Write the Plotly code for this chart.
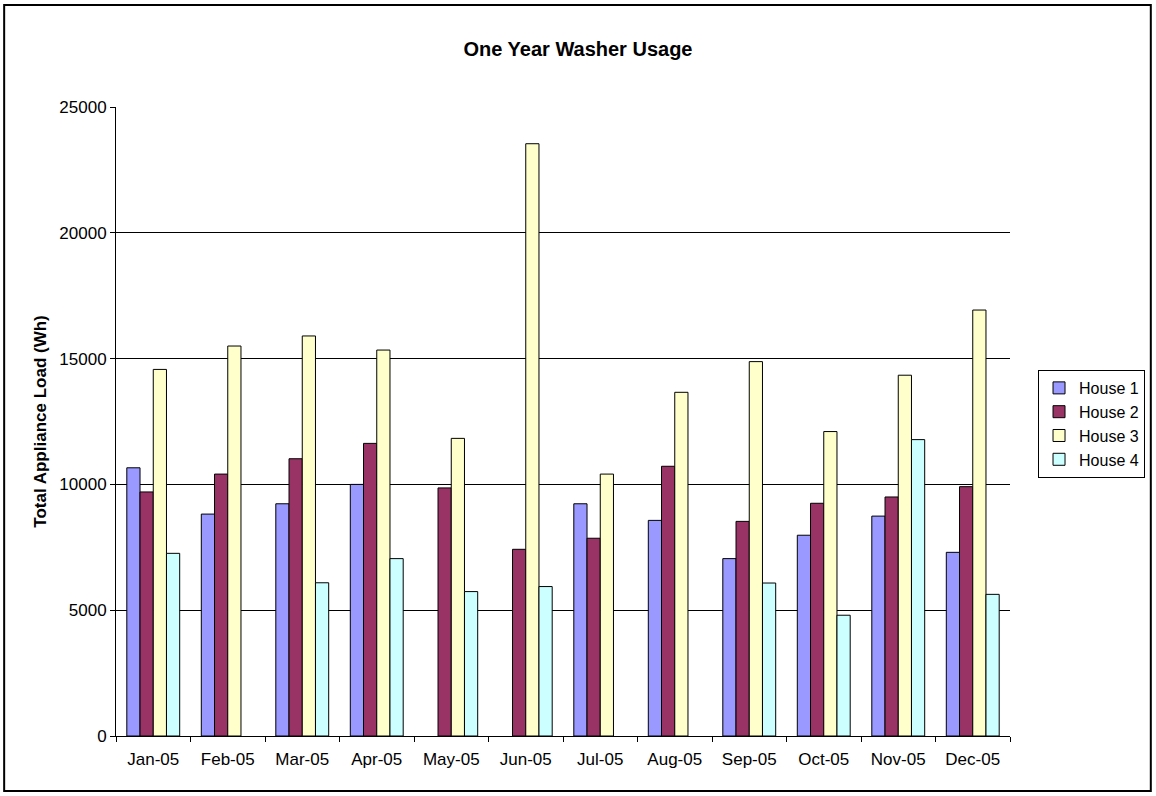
import plotly.graph_objects as go

# Data
months = ['Jan-05', 'Feb-05', 'Mar-05', 'Apr-05', 'May-05', 'Jun-05',
          'Jul-05', 'Aug-05', 'Sep-05', 'Oct-05', 'Nov-05', 'Dec-05']
house1 = [10660, 8820, 9230, 10000, None, None, 9230, 8570, 7050, 7980, 8740, 7300]
house2 = [9700, 10410, 11020, 11630, 9860, 7420, 7860, 10720, 8530, 9250, 9500, 9910]
house3 = [14570, 15500, 15900, 15340, 11830, 23540, 10410, 13660, 14880, 12100, 14340, 16930]
house4 = [7260, None, 6090, 7050, 5740, 5940, None, None, 6080, 4800, 11780, 5630]
y_ticks = [0, 5000, 10000, 15000, 20000, 25000]

series = [('House 1', house1, '#9999FF'),
          ('House 2', house2, '#993366'),
          ('House 3', house3, '#FFFFCC'),
          ('House 4', house4, '#CCFFFF')]

fig = go.Figure()
for name, vals, col in series:
    fig.add_trace(go.Bar(
        x=months, y=vals, name=name,
        marker=dict(color=col, line=dict(color='black', width=1))
    ))

# outer chart border (paper coords are relative to the plot area)
fig.add_shape(type='rect', xref='paper', yref='paper',
              x0=-0.1251, x1=1.1575, y0=-0.0874, y1=1.1622,
              line=dict(color='black', width=2), fillcolor='rgba(0,0,0,0)')

fig.update_layout(
    width=1156, height=796,
    margin=dict(l=116, r=145, t=107, b=60),
    paper_bgcolor='white', plot_bgcolor='white',
    font=dict(family='Liberation Sans, Arial, sans-serif', size=17, color='black'),
    title=dict(text='<b>One Year Washer Usage</b>', x=0.5, xanchor='center',
               y=0.938, yanchor='middle', font=dict(size=20)),
    barmode='group', bargap=0.29, bargroupgap=0,
    legend=dict(x=1.0302, y=0.5819, xanchor='left', yanchor='top',
                bordercolor='black', borderwidth=1, font=dict(size=16),
                itemwidth=30, tracegroupgap=0),
    xaxis=dict(showline=True, linecolor='black', linewidth=1,
               ticks='outside', tickson='boundaries', ticklen=5,
               tickcolor='black', tickfont=dict(size=17),
               ticklabelstandoff=8),
    yaxis=dict(range=[0, 25000], tickvals=y_ticks,
               ticktext=[str(v) for v in y_ticks],
               showline=True, linecolor='black', linewidth=1,
               ticks='outside', ticklen=5, tickcolor='black',
               showgrid=True, gridcolor='black', gridwidth=1,
               zeroline=False, tickfont=dict(size=17),
               title=dict(text='<b>Total Appliance Load (Wh)</b>',
                          font=dict(size=17), standoff=8)),
)

fig.write_html('out.html', config={'displayModeBar': False},
               post_script="document.body.style.margin='0';")
